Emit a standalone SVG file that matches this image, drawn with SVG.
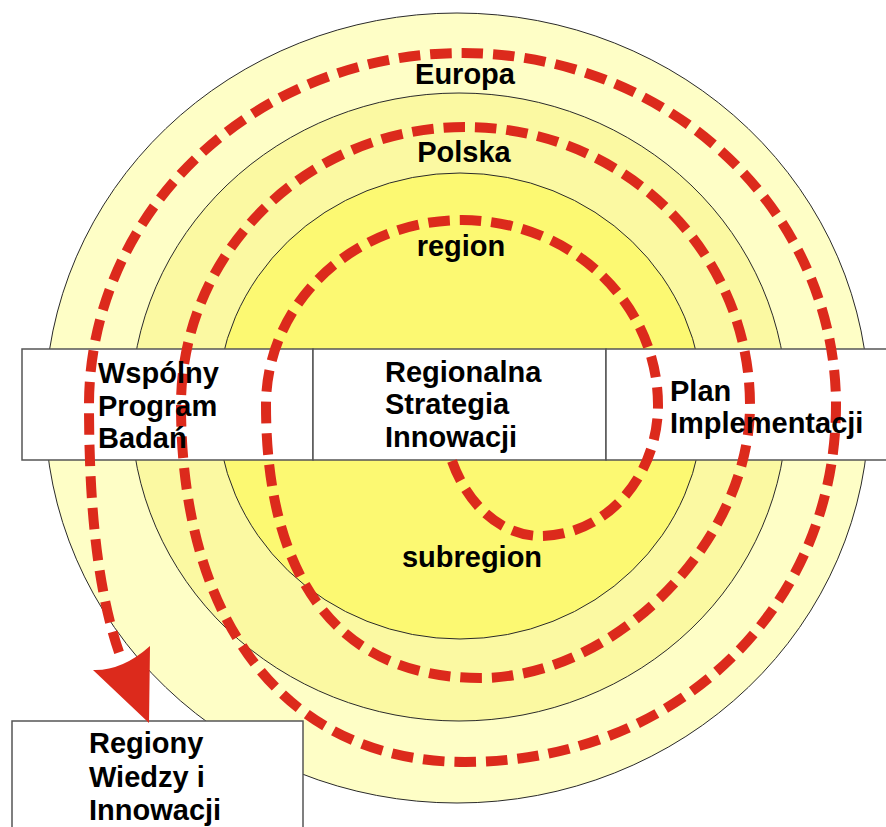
<svg xmlns="http://www.w3.org/2000/svg" width="886" height="827" viewBox="0 0 886 827">
<style>
.ring{stroke:#2a2a2a;stroke-width:1}
.box{fill:#ffffff;stroke:#555;stroke-width:1.5}
.lbl{font-family:"Liberation Sans",Arial,sans-serif;font-weight:bold;font-size:29px;fill:#000}
.mid{text-anchor:middle}
.spiral{fill:none;stroke:#DC2A1C;stroke-width:10;stroke-dasharray:21.5 10}
</style>
<rect width="886" height="827" fill="#ffffff"/>
<g id="europa">
<ellipse class="ring" cx="457" cy="408" rx="412" ry="395" fill="#FEFEC6"/>
</g>
<g id="polska">
<ellipse class="ring" cx="459" cy="407" rx="328" ry="314" fill="#FBF9A2"/>
</g>
<g id="region">
<ellipse class="ring" cx="460" cy="406" rx="243" ry="233" fill="#FCF972"/>
</g>
<g id="wspolny-program">
<rect class="box" x="22" y="349" width="291" height="111"/>
</g>
<g id="rsi">
<rect class="box" x="313" y="349" width="293" height="111"/>
</g>
<g id="plan">
<rect class="box" x="606" y="349" width="290" height="111"/>
</g>
<g id="regiony-wiedzy">
<rect class="box" x="12" y="721" width="291" height="112"/>
</g>
<g id="connectors">
<path class="spiral" d="M 452 461 A 98 131 0 0 0 540 536 A 118 131 0 0 0 658 405 A 196 185 0 0 0 266 405 C 266 582 341 678 480 678 C 615 678 750 541 750 405 A 284.5 278 0 0 0 181 405 C 181 626 289 762 465 762 C 676 762 836 608 836 405 A 373.5 352 0 0 0 89 405 C 89 520 100 600 121 658"/>
<path d="M 150 646 L 149 723 L 93 670 Q 122 671 150 646 Z" fill="#DC2A1C"/>
</g>
<g id="labels">
<text class="lbl mid" x="465" y="84">Europa</text>
<text class="lbl mid" x="464" y="162">Polska</text>
<text class="lbl mid" x="461" y="256">region</text>
<text class="lbl mid" x="472" y="567">subregion</text>
<text class="lbl" x="98" y="383">Wspólny</text>
<text class="lbl" x="98" y="416">Program</text>
<text class="lbl" x="98" y="448">Badań</text>
<text class="lbl" x="385" y="382">Regionalna</text>
<text class="lbl" x="385" y="414">Strategia</text>
<text class="lbl" x="385" y="447">Innowacji</text>
<text class="lbl" x="670" y="401">Plan</text>
<text class="lbl" x="670" y="433">Implementacji</text>
<text class="lbl" x="89" y="753">Regiony</text>
<text class="lbl" x="89" y="787">Wiedzy i</text>
<text class="lbl" x="89" y="820">Innowacji</text>
</g>
</svg>
